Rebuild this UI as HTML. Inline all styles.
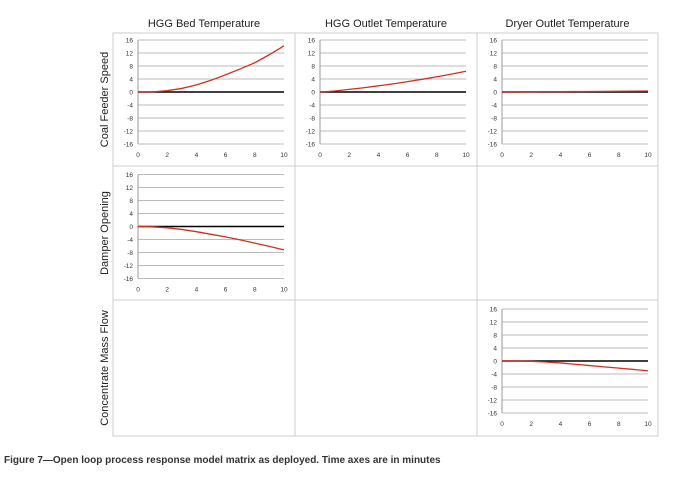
<!DOCTYPE html>
<html><head><meta charset="utf-8"><style>
body{margin:0;background:#fff;width:683px;height:474px;overflow:hidden;font-family:"Liberation Sans",sans-serif}
</style></head><body>
<svg id="c" width="683" height="474"></svg>
<div style="position:absolute;left:4px;top:455px;font-size:10px;font-weight:bold;color:#333">Figure 7—Open loop process response model matrix as deployed. Time axes are in minutes</div>
<script>
const colTitles=["HGG Bed Temperature","HGG Outlet Temperature","Dryer Outlet Temperature"];
const rowTitles=["Coal Feeder Speed","Damper Opening","Concentrate Mass Flow"];
const times=[0,1,2,3,4,5,6,7,8,9,10];
const xTicks=[0,2,4,6,8,10];
const yTicks=[16,12,8,4,0,-4,-8,-12,-16];
const seriesCoalBed=[0,0.05,0.4,1.1,2.2,3.6,5.3,7.1,9.0,11.5,14.2];
const seriesCoalOutlet=[0,0.3,0.8,1.3,1.9,2.5,3.2,3.9,4.7,5.5,6.4];
const seriesCoalDryer=[0,0.02,0.05,0.08,0.1,0.13,0.16,0.2,0.23,0.27,0.3];
const seriesDamperBed=[0,-0.1,-0.4,-0.9,-1.6,-2.4,-3.2,-4.1,-5.1,-6.1,-7.2];
const seriesConcDryer=[0,0,-0.1,-0.3,-0.6,-1.0,-1.4,-1.8,-2.2,-2.6,-3.0];
const panels=[[0,0,seriesCoalBed],[0,1,seriesCoalOutlet],[0,2,seriesCoalDryer],[1,0,seriesDamperBed],[2,2,seriesConcDryer]];
const svg=document.getElementById('c');const NS="http://www.w3.org/2000/svg";
function mk(t,a,p){const e=document.createElementNS(NS,t);for(const k in a)e.setAttribute(k,a[k]);(p||svg).appendChild(e);return e;}
const L=113,T=33,R=658,B=436,colX=[113,295,477,658],rowY=[33,166,300,436];
const box=mk('rect',{x:L,y:T,width:R-L,height:B-T,fill:'none',stroke:'#ccc'});

[295,477].forEach(x=>{const l=mk('line',{x1:x,y1:T,x2:x,y2:B,stroke:'#ccc'});});
[166,300].forEach(y=>{const l=mk('line',{x1:L,y1:y,x2:R,y2:y,stroke:'#ccc'});});
colTitles.forEach((t,i)=>{const e=mk('text',{x:(colX[i]+colX[i+1])/2,y:27,'text-anchor':'middle','font-size':11,fill:'#222'});e.textContent=t;});
rowTitles.forEach((t,i)=>{const cy=(rowY[i]+rowY[i+1])/2;const e=mk('text',{x:0,y:0,transform:`translate(108,${cy}) rotate(-90)`,'text-anchor':'middle','font-size':11,fill:'#222'});e.textContent=t;});
panels.forEach(([r,c,data])=>{
 const x0=138+c*182,x1=x0+146,y0=40+r*134.5,y1=y0+104;
 const sx=v=>x0+(v/10)*(x1-x0), sy=v=>y0+(16-v)/32*(y1-y0);
 const g=mk('g',{});
 yTicks.forEach(v=>{const l=mk('line',{x1:x0,y1:sy(v),x2:x1,y2:sy(v),stroke:'#bbb','stroke-width':1},g);
  const t=mk('text',{x:x0-5,y:sy(v)+2.5,'text-anchor':'end','font-size':6.5,fill:'#333'},g);t.textContent=v;});
 mk('line',{x1:x0,y1:y0,x2:x0,y2:y1,stroke:'#999'},g);
 xTicks.forEach(v=>{const t=mk('text',{x:sx(v),y:y1+13,'text-anchor':'middle','font-size':6.5,fill:'#333'},g);t.textContent=v;});
 const z=mk('line',{x1:x0,y1:sy(0),x2:x1,y2:sy(0),stroke:'#000','stroke-width':1.6},g);
 const p=mk('polyline',{points:times.map((t,i)=>sx(t)+','+sy(data[i])).join(' '),fill:'none',stroke:'#d03020','stroke-width':1.3},g);
 
});
</script>
</body></html>
